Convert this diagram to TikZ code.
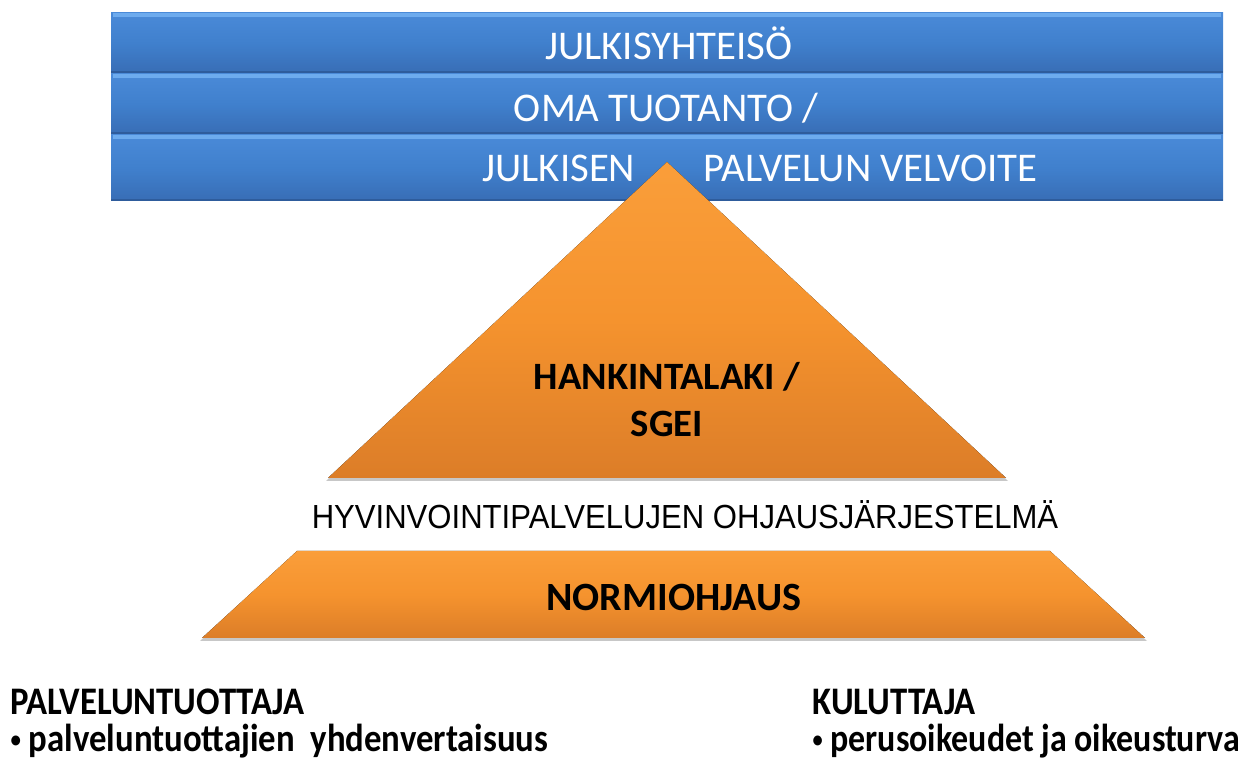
\documentclass[tikz,border=0pt]{standalone}
\usepackage{fontspec}
\usepackage{graphicx}
\setmainfont{Carlito}
\newfontfamily\arialfont{Liberation Sans}
\usetikzlibrary{positioning}

\definecolor{barblue}{HTML}{4080CD}
\definecolor{barlight}{HTML}{4A8AD8}
\definecolor{bardark}{HTML}{386DB5}
\definecolor{barhigh}{HTML}{6DABEE}
\definecolor{barshade}{HTML}{2E5C9C}
\definecolor{pyrorange}{HTML}{F5932E}
\definecolor{pyrlight}{HTML}{FA9E3A}
\definecolor{pyrdark}{HTML}{DC7D28}

\newcommand{\squeeze}[2][0.89]{\scalebox{#1}[1]{#2}}
\newcommand{\dotmark}{\raisebox{0.25ex}{\scalebox{0.6}{•}}}

\tikzset{
  bar/.style={top color=barlight, bottom color=bardark, middle color=barblue},
  pyr/.style={top color=pyrlight, bottom color=pyrdark, middle color=pyrorange},
  pyrshadow/.style={fill=black!22},
  bartext/.style={anchor=base, inner sep=0pt, text=white,
    font=\fontsize{11.6}{14}\selectfont},
  pyrtext/.style={anchor=base, inner sep=0pt,
    font=\bfseries\fontsize{11}{13}\selectfont},
  note/.style={anchor=base west, inner sep=0pt,
    font=\bfseries\fontsize{11.1}{13}\selectfont}
}

\begin{document}
\begin{tikzpicture}[x=0.01cm,y=-0.01cm]
  \useasboundingbox (0,0) rectangle (1260,762);
  % public sector bars
  \foreach \t/\b in {13/73,74/134,135/201}{
    \fill[bar] (111,\t) rectangle (1223,\b);
    \draw[barhigh, line width=1.2pt] (113,\t+2) -- (1221,\t+2);
    \draw[barshade, line width=0.8pt] (111,\b-1) -- (1223,\b-1);
  }
  \node[bartext] (julkisyht) at (669,60) {JULKISYHTEISÖ};
  \node[bartext] (oma) at (666,122) {OMA TUOTANTO /};
  \node[bartext, anchor=base east] (julkisen) at (636,182) {JULKISEN};
  \node[bartext, anchor=base west] (velvoite) at (703,182) {PALVELUN VELVOITE};
  % pyramid
  \fill[pyrshadow] (667,165) -- (1008,481) -- (326,481) -- cycle;
  \fill[pyr] (667,162) -- (1006,478) -- (328,478) -- cycle;
  \node[pyrtext] (hankinta) at (667,390) {HANKINTALAKI /};
  \node[pyrtext] (sgei) at (667,437) {SGEI};
  \node[anchor=base, inner sep=0pt, font=\arialfont\fontsize{9.5}{11}\selectfont]
    (ohjaus) at (685,529) {\squeeze[0.93]{HYVINVOINTIPALVELUJEN OHJAUSJÄRJESTELMÄ}};
  \fill[pyrshadow] (297,554) -- (1050,554) -- (1147,641) -- (200,641) -- cycle;
  \fill[pyr] (297,551) -- (1050,551) -- (1145,638) -- (202,638) -- cycle;
  \node[pyrtext, font=\bfseries\fontsize{11.4}{13}\selectfont] (normi) at (674,611) {NORMIOHJAUS};
  % parties
  \node[note] (tuottaja) at (10,715) {\squeeze{PALVELUNTUOTTAJA}};
  \node[note] (tuottajat) at (10,752) {\squeeze{\dotmark\ palveluntuottajien\ \ yhdenvertaisuus}};
  \node[note] (kuluttaja) at (812,715) {\squeeze{KULUTTAJA}};
  \node[note] (oikeudet) at (812,752) {\squeeze[0.87]{\dotmark\ perusoikeudet ja oikeusturva}};
\end{tikzpicture}
\end{document}
